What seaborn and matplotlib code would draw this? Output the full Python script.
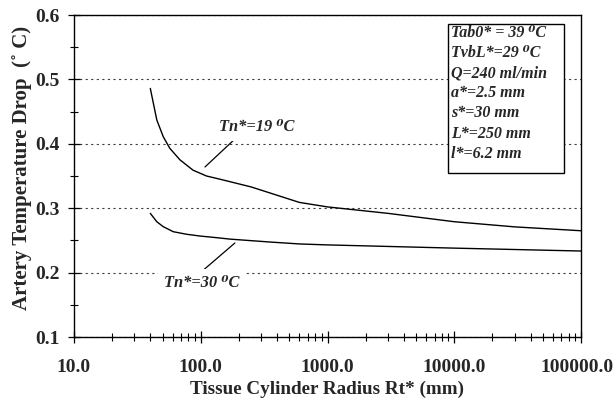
import numpy as np
import pandas as pd
import matplotlib
matplotlib.use("Agg")
import matplotlib.pyplot as plt
import matplotlib.ticker as mticker
import matplotlib.transforms as mtrans
from matplotlib.patches import Rectangle
import seaborn as sns

# ---- data ----
r_19 = [40, 45, 50.6, 57, 68.6, 87, 111, 142, 250, 600, 1000, 3000, 10000, 30000, 100000]
t_19 = [0.486, 0.437, 0.411, 0.393, 0.375, 0.359, 0.350, 0.345, 0.333, 0.309, 0.302,
        0.292, 0.279, 0.271, 0.265]
r_30 = [40, 45, 50.6, 60.7, 77.5, 98.6, 134, 170, 350, 600, 1000, 10000, 100000]
t_30 = [0.292, 0.279, 0.2713, 0.2635, 0.2595, 0.2568, 0.2542, 0.252, 0.2475, 0.2445,
        0.243, 0.238, 0.2335]
series_names = ["Tn*=19 ⁰C", "Tn*=30 ⁰C"]
x_ticks = [10, 100, 1000, 10000, 100000]
y_ticks = [0.1, 0.2, 0.3, 0.4, 0.5, 0.6]
params = ["Tab0* = 39 ⁰C", "TvbL*=29 ⁰C", "Q=240 ml/min", "a*=2.5 mm",
          "s*=30 mm", "L*=250 mm", "l*=6.2 mm"]

df = pd.concat([
    pd.DataFrame({"R": r_19, "T": t_19, "s": series_names[0]}),
    pd.DataFrame({"R": r_30, "T": t_30, "s": series_names[1]}),
])

sns.set_theme(style="ticks")
plt.rcParams["font.family"] = ["Liberation Serif", "DejaVu Serif"]
plt.rcParams["font.weight"] = "bold"
FAM = ["Liberation Serif", "DejaVu Serif"]

fig = plt.figure(figsize=(6.16, 4.01), dpi=100)
ax = fig.add_axes([74 / 616, 1 - 337 / 401, (581 - 74) / 616, (337 - 15) / 401])

sns.lineplot(data=df, x="R", y="T", hue="s", palette=["black", "black"],
             legend=False, ax=ax, linewidth=1.0, zorder=4, sort=False)

ax.set_xscale("log")
ax.set_xlim(10, 100000)
ax.set_ylim(0.1, 0.6)
ax.set_xticks(x_ticks)
ax.xaxis.set_major_formatter(mticker.FuncFormatter(lambda v, p: f"{v:.1f}"))
ax.xaxis.set_minor_locator(mticker.LogLocator(base=10, subs=np.arange(2, 10)))
ax.xaxis.set_minor_formatter(mticker.NullFormatter())
ax.set_yticks(y_ticks)
ax.yaxis.set_major_formatter(mticker.FormatStrFormatter("%.1f"))
ax.yaxis.set_minor_locator(mticker.MultipleLocator(0.05))

ax.tick_params(axis="both", which="major", direction="inout", length=8, width=0.9,
               labelsize=14, color="black")
ax.tick_params(axis="both", which="minor", direction="inout", length=6, width=0.8,
               color="black")
ax.tick_params(axis="x", which="major", pad=12)
ax.tick_params(axis="y", which="major", pad=6)
for lab in ax.get_xticklabels() + ax.get_yticklabels():
    lab.set_fontweight("bold")
    lab.set_family(FAM)
# nudge the last x tick label slightly left so it stays inside the canvas
last = ax.xaxis.get_major_ticks()[-1].label1
last.set_transform(last.get_transform() + mtrans.ScaledTranslation(-4 / 100, 0, fig.dpi_scale_trans))

for s in ax.spines.values():
    s.set_visible(True)
    s.set_color("black")
    s.set_linewidth(1.0)

ax.yaxis.grid(True, which="major", linestyle=(0, (2, 3)), color="0.25", linewidth=0.8)
ax.set_axisbelow(True)

ax.set_xlabel("Tissue Cylinder Radius Rt* (mm)", fontsize=13.75, fontweight="bold",
              labelpad=3, family=FAM)
ax.set_ylabel("Artery Temperature Drop  (˚ C)", fontsize=15, fontweight="bold",
              family=FAM)
ax.yaxis.set_label_coords(-(74 - 32) / 507, (337 - 168) / 322)

# curve labels with leader lines
lab_kw = dict(fontsize=11.8, fontweight="bold", fontstyle="italic", family=FAM,
              ha="center", va="center", zorder=5,
              bbox=dict(boxstyle="square,pad=0.35", fc="white", ec="none"))
ax.text(278, 0.426, series_names[0], **lab_kw)
ax.text(102, 0.184, series_names[1], **lab_kw)
ax.annotate("", xy=(108, 0.364), xytext=(186, 0.4075),
            arrowprops=dict(arrowstyle="-", lw=0.9, color="black", shrinkA=0, shrinkB=0))
ax.annotate("", xy=(186, 0.246), xytext=(98.6, 0.1994),
            arrowprops=dict(arrowstyle="-", lw=0.9, color="black", shrinkA=0, shrinkB=0))

# parameter box
bx0, by0, bx1, by1 = 448, 24, 564, 173
fig.patches.append(Rectangle((bx0 / 616, 1 - by1 / 401), (bx1 - bx0) / 616, (by1 - by0) / 401,
                             transform=fig.transFigure, fc="white", ec="black", lw=1.0,
                             zorder=5))
for i, t in enumerate(params):
    fig.text(451 / 616, 1 - (37 + i * 20.1) / 401, t, fontsize=11.5, fontweight="bold",
             fontstyle="italic", family=FAM, ha="left", va="baseline", zorder=6)

fig.savefig("out.png", dpi=100)
